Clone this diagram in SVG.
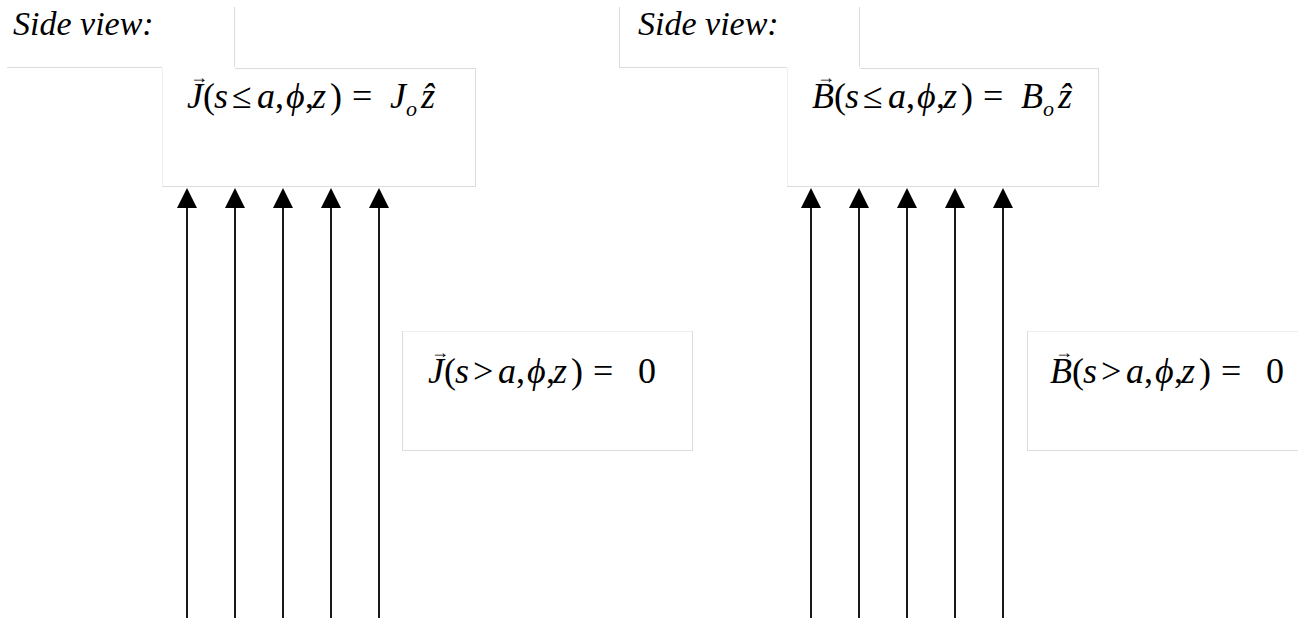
<svg xmlns="http://www.w3.org/2000/svg" width="1298" height="618" viewBox="0 0 1298 618">
<defs>
<style>
.bg{fill:#ffffff}
.edge{stroke:#dcdcdc;stroke-width:1;fill:none}
.faint{stroke:#eeeeee;stroke-width:1;fill:none}
.serif{font-family:'Liberation Serif','Times New Roman',Times,'DejaVu Serif',serif}
.lbl{font-style:italic;font-size:34px;fill:#000}
.eq{font-size:36px;fill:#000}
.it{font-style:italic}
.sub{font-style:italic;font-size:22px}
.vec{font-size:18px;fill:#000}
.flow{stroke:#1a1a1a;stroke-width:2;fill:none;marker-end:url(#head)}
</style>
<marker id="head" viewBox="0 0 20 20" refX="0" refY="10" markerWidth="20" markerHeight="20" markerUnits="userSpaceOnUse" orient="auto">
<path d="M0,0 L20,10 L0,20 z" fill="#000"/>
</marker>
</defs>
<rect class="bg" x="0" y="0" width="1298" height="618"/>

<g id="connectors">
<line class="flow" x1="187" y1="618" x2="187" y2="208"/>
<line class="flow" x1="235" y1="618" x2="235" y2="208"/>
<line class="flow" x1="283" y1="618" x2="283" y2="208"/>
<line class="flow" x1="331" y1="618" x2="331" y2="208"/>
<line class="flow" x1="379" y1="618" x2="379" y2="208"/>
<line class="flow" x1="811" y1="618" x2="811" y2="208"/>
<line class="flow" x1="859" y1="618" x2="859" y2="208"/>
<line class="flow" x1="907" y1="618" x2="907" y2="208"/>
<line class="flow" x1="955" y1="618" x2="955" y2="208"/>
<line class="flow" x1="1003" y1="618" x2="1003" y2="208"/>
</g>

<g id="side-view-left">
<line class="edge" x1="7" y1="67.5" x2="162" y2="67.5"/>
<line class="edge" x1="234.5" y1="7" x2="234.5" y2="67"/>
<text class="serif lbl" x="13" y="35">Side view:</text>
</g>

<g id="j-inside">
<line class="edge" x1="235" y1="68.5" x2="475" y2="68.5"/>
<line class="edge" x1="475.5" y1="68" x2="475.5" y2="187"/>
<line class="edge" x1="162" y1="186.5" x2="475" y2="186.5"/>
<line class="faint" x1="162.5" y1="68" x2="162.5" y2="186"/>
<text class="serif vec" x="190" y="83">→</text>
<text class="serif eq" y="108"><tspan class="it" x="187">J</tspan><tspan x="203">(</tspan><tspan class="it" x="214">s</tspan><tspan x="232">≤</tspan><tspan class="it" x="257">a</tspan><tspan x="275">,</tspan><tspan class="it" x="286">ϕ</tspan><tspan x="305">,</tspan><tspan class="it" x="312">z</tspan><tspan x="330">)</tspan><tspan x="352">=</tspan><tspan class="it" x="390">J</tspan><tspan class="sub" x="406" dy="8">o</tspan><tspan class="it" x="421" dy="-8">ẑ</tspan></text>
</g>

<g id="j-outside">
<line class="faint" x1="402" y1="331.5" x2="692" y2="331.5"/>
<line class="edge" x1="402.5" y1="331" x2="402.5" y2="450"/>
<line class="edge" x1="692.5" y1="331" x2="692.5" y2="451"/>
<line class="edge" x1="402" y1="450.5" x2="692" y2="450.5"/>
<text class="serif vec" x="431" y="358">→</text>
<text class="serif eq" y="383"><tspan class="it" x="428">J</tspan><tspan x="444">(</tspan><tspan class="it" x="455">s</tspan><tspan x="473">&gt;</tspan><tspan class="it" x="498">a</tspan><tspan x="516">,</tspan><tspan class="it" x="527">ϕ</tspan><tspan x="546">,</tspan><tspan class="it" x="553">z</tspan><tspan x="571">)</tspan><tspan x="593">=</tspan><tspan x="638">0</tspan></text>
</g>

<g id="side-view-right">
<line class="edge" x1="619.5" y1="7" x2="619.5" y2="67"/>
<line class="edge" x1="619" y1="67.5" x2="787" y2="67.5"/>
<line class="edge" x1="859.5" y1="7" x2="859.5" y2="67"/>
<text class="serif lbl" x="638" y="35">Side view:</text>
</g>

<g id="b-inside">
<line class="edge" x1="860" y1="68.5" x2="1098" y2="68.5"/>
<line class="edge" x1="1098.5" y1="68" x2="1098.5" y2="187"/>
<line class="edge" x1="787" y1="186.5" x2="1098" y2="186.5"/>
<line class="faint" x1="787.5" y1="68" x2="787.5" y2="186"/>
<text class="serif vec" x="817" y="83">→</text>
<text class="serif eq" y="108"><tspan class="it" x="812">B</tspan><tspan x="834">(</tspan><tspan class="it" x="845">s</tspan><tspan x="863">≤</tspan><tspan class="it" x="888">a</tspan><tspan x="906">,</tspan><tspan class="it" x="917">ϕ</tspan><tspan x="936">,</tspan><tspan class="it" x="943">z</tspan><tspan x="961">)</tspan><tspan x="983">=</tspan><tspan class="it" x="1021">B</tspan><tspan class="sub" x="1043" dy="8">o</tspan><tspan class="it" x="1058" dy="-8">ẑ</tspan></text>
</g>

<g id="b-outside">
<line class="faint" x1="1027" y1="331.5" x2="1298" y2="331.5"/>
<line class="edge" x1="1027.5" y1="331" x2="1027.5" y2="450"/>
<line class="edge" x1="1027" y1="450.5" x2="1298" y2="450.5"/>
<text class="serif vec" x="1055" y="358">→</text>
<text class="serif eq" y="383"><tspan class="it" x="1050">B</tspan><tspan x="1072">(</tspan><tspan class="it" x="1083">s</tspan><tspan x="1101">&gt;</tspan><tspan class="it" x="1126">a</tspan><tspan x="1144">,</tspan><tspan class="it" x="1155">ϕ</tspan><tspan x="1174">,</tspan><tspan class="it" x="1181">z</tspan><tspan x="1199">)</tspan><tspan x="1221">=</tspan><tspan x="1266">0</tspan></text>
</g>
</svg>
